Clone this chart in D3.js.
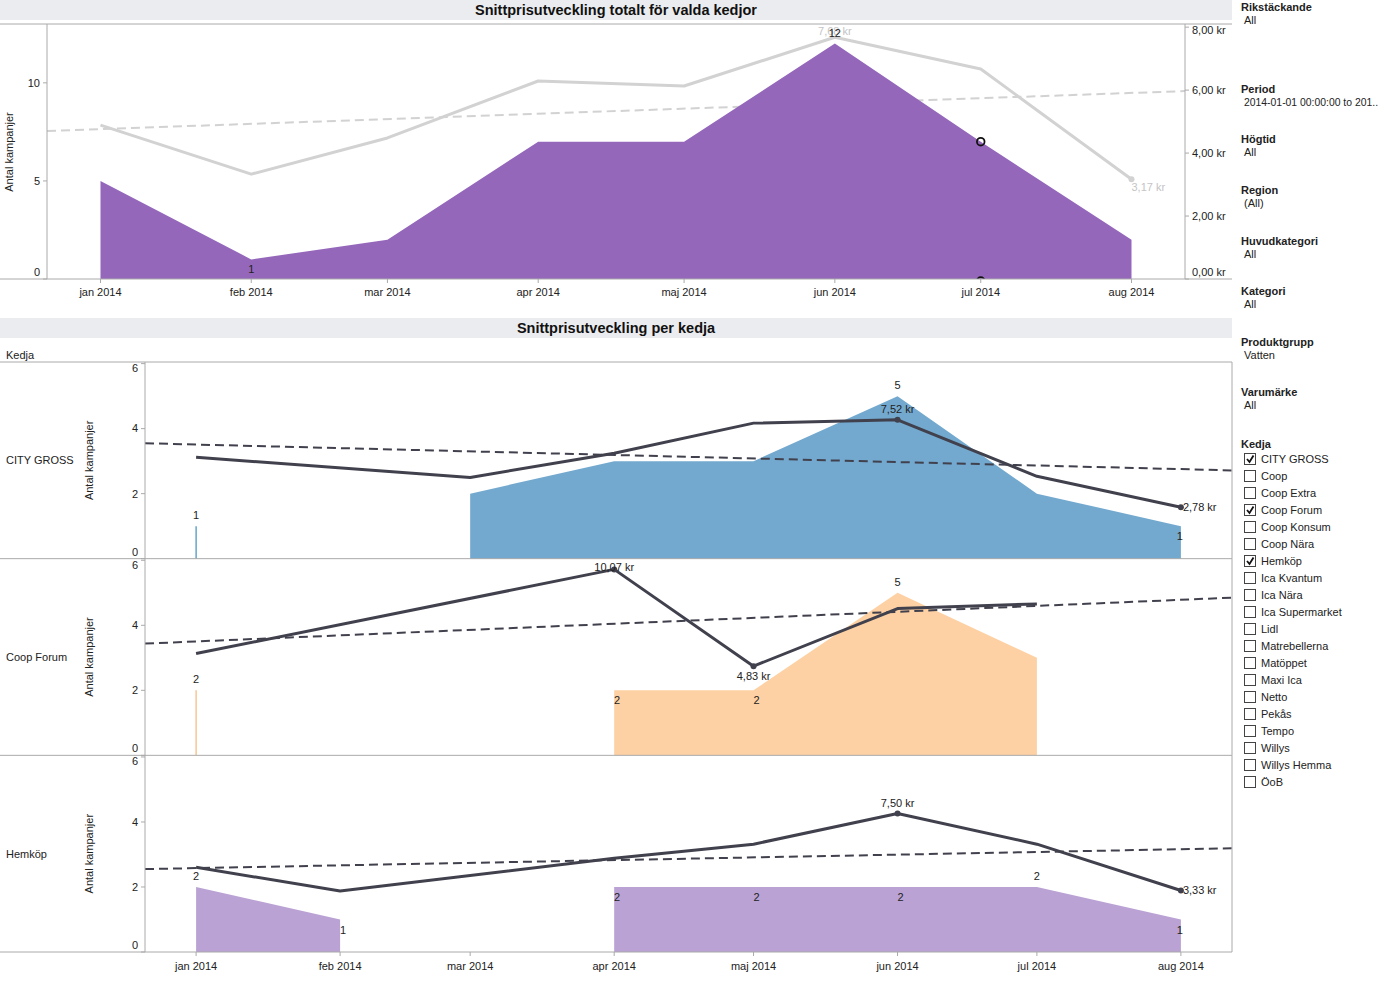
<!DOCTYPE html>
<html>
<head>
<meta charset="utf-8">
<script src="https://cdnjs.cloudflare.com/ajax/libs/d3/7.8.5/d3.min.js"></script>
<style>
  body { margin: 0; background: #fff; }
  svg text { font-family: "Liberation Sans", Arial, sans-serif; fill: #222; }
</style>
</head>
<body>
<svg id="chart" width="1384" height="984"></svg>
<script>
// ---- data ----
var months = ["2014-01", "2014-02", "2014-03", "2014-04", "2014-05", "2014-06", "2014-07", "2014-08"];
var monthLabels = ["jan 2014", "feb 2014", "mar 2014", "apr 2014", "maj 2014", "jun 2014", "jul 2014", "aug 2014"];

// totalt för valda kedjor
var totalCount = [5, 1, 2, 7, 7, 12, 7, 2];
var totalPrice = [4.89, 3.33, 4.48, 6.29, 6.13, 7.68, 6.67, 3.17];
var totalTrend = [4.70, 5.97];

// per kedja
var chains = ["CITY GROSS", "Coop Forum", "Hemköp"];
var cityCount = [1, null, 2, 3, 3, 5, 2, 1];
var cityPrice = [5.49, null, 4.40, 5.71, 7.34, 7.52, 4.46, 2.78];
var cityTrend = [6.25, 4.78];
var coopCount = [2, null, null, 2, 2, 5, 3, null];
var coopPrice = [5.51, null, null, 10.07, 4.83, 7.95, 8.20, null];
var coopTrend = [6.05, 8.54];
var hemCount = [2, 1, null, 2, 2, 2, 2, 1];
var hemPrice = [4.59, 3.30, null, 5.08, 5.84, 7.50, 5.84, 3.33];
var hemTrend = [4.49, 5.62];

var countTicksTop = [0, 5, 10];
var priceTicksTop = [0, 2, 4, 6, 8];
var countTicksPanel = [0, 2, 4, 6];

var filterNames = ["Rikstäckande", "Period", "Högtid", "Region", "Huvudkategori", "Kategori", "Produktgrupp", "Varumärke"];
var filterValues = ["All", "2014-01-01 00:00:00 to 201..", "All", "(All)", "All", "All", "Vatten", "All"];
var chainOptions = ["CITY GROSS", "Coop", "Coop Extra", "Coop Forum", "Coop Konsum", "Coop Nära", "Hemköp",
  "Ica Kvantum", "Ica Nära", "Ica Supermarket", "Lidl", "Matrebellerna", "Matöppet", "Maxi Ica", "Netto",
  "Pekås", "Tempo", "Willys", "Willys Hemma", "ÖoB"];
var checkedChains = ["CITY GROSS", "Coop Forum", "Hemköp"];

(function() {
  var svg = d3.select("#chart");
  var parseMonth = d3.utcParse("%Y-%m");
  var dates = months.map(parseMonth);
  var xDomain = [new Date(Date.UTC(2013, 11, 21)), new Date(Date.UTC(2014, 7, 12))];

  var sv = d3.formatLocale({decimal: ",", thousands: " ", grouping: [3], currency: ["", " kr"]});
  var kr = function(v) { return sv.format(",.2f")(v) + " kr"; };

  var axisCol = "#aaa", darkLine = "#41414e";

  function pts(arr) {
    return arr.map(function(v, i) { return {date: dates[i], v: v, i: i}; });
  }

  function band(y, title) {
    svg.append("rect").attr("x", 0).attr("y", y).attr("width", 1232).attr("height", 20).attr("fill", "#ebecef");
    svg.append("text").attr("x", 616).attr("y", y + 15).attr("text-anchor", "middle")
      .style("font-size", "14.5px").style("font-weight", "bold").style("fill", "#111").text(title);
  }

  function hline(y, x0, x1) {
    svg.append("line").attr("x1", x0).attr("x2", x1).attr("y1", y).attr("y2", y).attr("stroke", axisCol);
  }
  function vline(x, y0, y1) {
    svg.append("line").attr("x1", x).attr("x2", x).attr("y1", y0).attr("y2", y1).attr("stroke", axisCol);
  }

  function xLabels(x, y, labelY) {
    var g = svg.append("g");
    dates.forEach(function(d, i) {
      g.append("line").attr("x1", x(d)).attr("x2", x(d)).attr("y1", y).attr("y2", y + 4).attr("stroke", axisCol);
      g.append("text").attr("x", x(d)).attr("y", labelY).attr("text-anchor", "middle")
        .attr("dy", "0.35em").style("font-size", "11px").text(monthLabels[i]);
    });
  }

  function yLabels(scale, ticks, x, side, fmt) {
    var r = scale.range(), lo = Math.max(r[0], r[1]), hi = Math.min(r[0], r[1]);
    ticks.forEach(function(t) {
      var y = scale(t);
      var ty = Math.min(Math.max(y, hi + 6), lo - 7);
      var dir = side === "left" ? -1 : 1;
      svg.append("line").attr("x1", x).attr("x2", x + dir * 4).attr("y1", y).attr("y2", y).attr("stroke", axisCol);
      svg.append("text").attr("x", x + dir * 7).attr("y", ty).attr("dy", "0.35em")
        .attr("text-anchor", side === "left" ? "end" : "start")
        .style("font-size", "11px").text(fmt ? fmt(t) : t);
    });
  }

  // ---- top chart ----
  band(0, "Snittprisutveckling totalt för valda kedjor");
  var xTop = d3.scaleUtc().domain(xDomain).range([47, 1185]);
  var yTopCount = d3.scaleLinear().domain([0, 13]).range([279, 24]);
  var yTopPrice = d3.scaleLinear().domain([0, 8.1]).range([279, 24]);

  svg.append("clipPath").attr("id", "topclip").append("rect")
    .attr("x", 47).attr("y", 24).attr("width", 1138).attr("height", 255);
  var topG = svg.append("g").attr("clip-path", "url(#topclip)");

  topG.append("path")
    .datum([{date: xDomain[0], v: totalTrend[0]}, {date: xDomain[1], v: totalTrend[1]}])
    .attr("d", d3.line().x(function(d) { return xTop(d.date); }).y(function(d) { return yTopPrice(d.v); }))
    .attr("fill", "none").attr("stroke", "#d2d2d2").attr("stroke-width", 2).attr("stroke-dasharray", "9,5");

  topG.append("path").datum(pts(totalCount))
    .attr("d", d3.area().x(function(d) { return xTop(d.date); }).y0(yTopCount(0)).y1(function(d) { return yTopCount(d.v); }))
    .attr("fill", "#9467bb");

  topG.append("path").datum(pts(totalPrice))
    .attr("d", d3.line().x(function(d) { return xTop(d.date); }).y(function(d) { return yTopPrice(d.v); }))
    .attr("fill", "none").attr("stroke", "#d2d2d2").attr("stroke-width", 3).attr("stroke-linejoin", "round");

  topG.append("circle").attr("cx", xTop(dates[7])).attr("cy", yTopPrice(totalPrice[7])).attr("r", 3).attr("fill", "#d2d2d2");

  // selection markers (jul)
  [totalCount[6], 0].forEach(function(v) {
    topG.append("circle").attr("cx", xTop(dates[6])).attr("cy", yTopCount(v) + (v === 0 ? 2 : 0)).attr("r", 3.8)
      .attr("fill", "none").attr("stroke", "#111").attr("stroke-width", 1.8);
  });

  // grey price label sits partly under the "12" count label, as in the dashboard
  svg.append("text").attr("x", xTop(dates[5])).attr("y", yTopPrice(totalPrice[5]) - 2).attr("text-anchor", "middle")
    .style("font-size", "11px").style("fill", "#c4c4c4").text(kr(totalPrice[5]));
  svg.append("text").attr("x", xTop(dates[7])).attr("y", yTopPrice(totalPrice[7]) + 12).attr("text-anchor", "start")
    .style("font-size", "11px").style("fill", "#c4c4c4").text(kr(totalPrice[7]));
  svg.append("text").attr("x", xTop(dates[5])).attr("y", yTopCount(totalCount[5]) - 7).attr("text-anchor", "middle")
    .style("font-size", "11px").text(totalCount[5]);
  svg.append("text").attr("x", xTop(dates[1])).attr("y", yTopCount(totalCount[1]) + 14).attr("text-anchor", "middle")
    .style("font-size", "11px").text(totalCount[1]);

  hline(24, 0, 1232); hline(279, 0, 1232);
  vline(47, 24, 279); vline(1185, 24, 279);
  yLabels(yTopCount, countTicksTop, 47, "left");
  yLabels(yTopPrice, priceTicksTop, 1185, "right", kr);
  xLabels(xTop, 279, 292);
  svg.append("text").attr("transform", "translate(13,152) rotate(-90)").attr("text-anchor", "middle")
    .style("font-size", "11px").text("Antal kampanjer");

  // ---- per kedja ----
  band(318, "Snittprisutveckling per kedja");
  svg.append("text").attr("x", 6).attr("y", 355).attr("dy", "0.35em").style("font-size", "11px").text("Kedja");

  var xP = d3.scaleUtc().domain(xDomain).range([145, 1232]);
  var panelH = 196.67, panel0 = 362;

  var panels = [
    {name: chains[0], count: cityCount, price: cityPrice, trend: cityTrend, color: "#73a9cf", spike: "#3d8dbf",
     countLab: [[0, "above"], [5, "above"], [7, "inside"]],
     priceLab: [[5, "above"], [7, "right"]]},
    {name: chains[1], count: coopCount, price: coopPrice, trend: coopTrend, color: "#fdd1a4", spike: "#f5b878",
     countLab: [[0, "above"], [3, "inside"], [4, "inside"], [5, "above"]],
     priceLab: [[3, "above"], [4, "below"]]},
    {name: chains[2], count: hemCount, price: hemPrice, trend: hemTrend, color: "#baa2d4", spike: "#9a7fc0",
     countLab: [[0, "above"], [1, "inside"], [3, "inside"], [4, "inside"], [5, "inside"], [6, "above"], [7, "inside"]],
     priceLab: [[5, "above"], [7, "right"]]}
  ];

  panels.forEach(function(p, k) {
    var t = panel0 + k * panelH, b = t + panelH;
    var yC = d3.scaleLinear().domain([0, 6.05]).range([b, t]);
    var yK = d3.scaleLinear().domain([0, 10.65]).range([b, t]);
    var g = svg.append("g");
    var data = pts(p.count);

    g.append("path").datum(data)
      .attr("d", d3.area().defined(function(d) { return d.v != null; })
        .x(function(d) { return xP(d.date); }).y0(b).y1(function(d) { return yC(d.v); }))
      .attr("fill", p.color);

    // isolated months show as a thin spike
    data.forEach(function(d, i) {
      var prev = i > 0 ? p.count[i - 1] : null, next = i < 7 ? p.count[i + 1] : null;
      if (d.v != null && prev == null && next == null) {
        g.append("line").attr("x1", xP(d.date)).attr("x2", xP(d.date)).attr("y1", b).attr("y2", yC(d.v))
          .attr("stroke", p.spike).attr("stroke-width", 1.2);
      }
    });

    g.append("path")
      .datum([{date: xDomain[0], v: p.trend[0]}, {date: xDomain[1], v: p.trend[1]}])
      .attr("d", d3.line().x(function(d) { return xP(d.date); }).y(function(d) { return yK(d.v); }))
      .attr("fill", "none").attr("stroke", darkLine).attr("stroke-width", 2).attr("stroke-dasharray", "9,5");

    var priceData = pts(p.price).filter(function(d) { return d.v != null; });
    g.append("path").datum(priceData)
      .attr("d", d3.line().x(function(d) { return xP(d.date); }).y(function(d) { return yK(d.v); }))
      .attr("fill", "none").attr("stroke", darkLine).attr("stroke-width", 3).attr("stroke-linejoin", "round");

    p.priceLab.forEach(function(l) {
      var i = l[0], x = xP(dates[i]), y = yK(p.price[i]);
      g.append("circle").attr("cx", x).attr("cy", y).attr("r", 3).attr("fill", darkLine);
      var tx = g.append("text").style("font-size", "11px").text(kr(p.price[i]));
      if (l[1] === "above") tx.attr("x", x).attr("y", Math.max(y - 7, t + 12)).attr("text-anchor", "middle");
      else if (l[1] === "below") tx.attr("x", x).attr("y", y + 14).attr("text-anchor", "middle");
      else tx.attr("x", x + 2).attr("y", y).attr("dy", "0.35em").attr("text-anchor", "start");
    });

    p.countLab.forEach(function(l) {
      var i = l[0], x = xP(dates[i]), y = yC(p.count[i]);
      var tx = g.append("text").style("font-size", "11px").attr("text-anchor", "middle").text(p.count[i]);
      if (l[1] === "above") tx.attr("x", x).attr("y", y - 7);
      else tx.attr("x", i === 7 ? x - 1 : x + 3).attr("y", y + 14);
    });

    hline(t, 0, 1232);
    vline(145, t, b); vline(1232, t, b);
    yLabels(yC, countTicksPanel, 145, "left");
    svg.append("text").attr("x", 6).attr("y", (t + b) / 2).attr("dy", "0.35em").style("font-size", "11px").text(p.name);
    svg.append("text").attr("transform", "translate(93," + ((t + b) / 2) + ") rotate(-90)").attr("text-anchor", "middle")
      .style("font-size", "11px").text("Antal kampanjer");
  });
  var panelBottom = panel0 + 3 * panelH;
  hline(panelBottom, 0, 1232);
  xLabels(xP, panelBottom, 966);

  // ---- sidebar ----
  var side = svg.append("g").attr("transform", "translate(1241,0)");
  filterNames.forEach(function(n, i) {
    var y = i < 1 ? 7 : 89 + (i - 1) * 50.6;
    side.append("text").attr("x", 0).attr("y", y).attr("dy", "0.35em")
      .style("font-size", "11px").style("font-weight", "bold").text(n);
    side.append("text").attr("x", 3).attr("y", y + 13).attr("dy", "0.35em")
      .style("font-size", filterValues[i].length > 20 ? "10.4px" : "11px").text(filterValues[i]);
  });
  side.append("text").attr("x", 0).attr("y", 444).attr("dy", "0.35em")
    .style("font-size", "11px").style("font-weight", "bold").text("Kedja");
  chainOptions.forEach(function(c, i) {
    var y = 459 + i * 17;
    side.append("rect").attr("x", 3.5).attr("y", y - 5.5).attr("width", 11).attr("height", 11)
      .attr("fill", "#fff").attr("stroke", "#444").attr("stroke-width", 1);
    if (checkedChains.indexOf(c) >= 0) {
      side.append("path").attr("d", "M6," + y + " L8.5," + (y + 3) + " L12.5," + (y - 3.5))
        .attr("fill", "none").attr("stroke", "#111").attr("stroke-width", 1.8);
    }
    side.append("text").attr("x", 20).attr("y", y).attr("dy", "0.35em").style("font-size", "11px").text(c);
  });
})();
</script>
</body>
</html>
